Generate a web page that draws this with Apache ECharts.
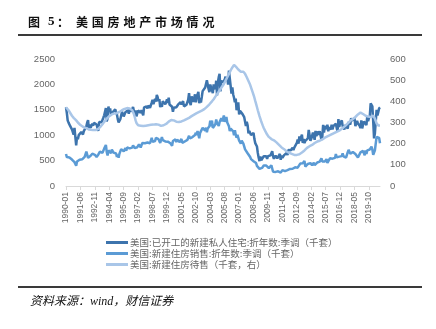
<!DOCTYPE html>
<html><head><meta charset="utf-8">
<script src="https://cdn.jsdelivr.net/npm/echarts@6/dist/echarts.min.js"></script>
<style>html,body{margin:0;padding:0;background:#fff}#c{width:436px;height:329px}</style>
</head><body><div id="c"></div>
<script>
// Monthly data 1990-01 .. 2020-11
const startYear = 1990, startMonth = 1, monthCount = 371;
const seriesNames = ['美国:已开工的新建私人住宅:折年数:季调（千套）','美国:新建住房销售:折年数:季调（千套）','美国:新建住房待售（千套，右）'];
const leftTicks = [0, 500, 1000, 1500, 2000, 2500];
const rightTicks = [0, 100, 200, 300, 400, 500, 600];

const starts = [
1551,1437,1289,1248,1212,1177,1171,1115,1110,1014,1145,969,
798,965,921,1001,996,1036,1063,1049,1015,1079,1103,1079,
1176,1250,1297,1099,1214,1145,1139,1226,1186,1244,1214,1227,
1210,1210,1083,1258,1260,1280,1254,1300,1343,1392,1376,1533,
1272,1337,1564,1465,1526,1409,1439,1450,1474,1450,1511,1455,
1407,1316,1249,1267,1314,1281,1461,1416,1369,1369,1452,1431,
1467,1491,1424,1516,1504,1467,1472,1557,1475,1392,1489,1370,
1355,1486,1457,1492,1442,1494,1437,1390,1546,1520,1510,1566,
1525,1584,1567,1540,1536,1641,1698,1614,1582,1715,1660,1792,
1748,1670,1710,1553,1611,1559,1669,1648,1635,1608,1648,1708,
1636,1737,1604,1626,1575,1559,1463,1541,1507,1549,1551,1532,
1600,1625,1590,1649,1605,1636,1670,1567,1562,1540,1602,1568,
1698,1829,1642,1592,1764,1717,1655,1633,1804,1648,1753,1788,
1853,1629,1726,1643,1751,1867,1897,1833,1939,1967,2083,2057,
1911,1846,1998,2003,1981,1828,2002,2024,1905,2072,1782,2042,
2144,2207,1864,2061,2025,2068,2054,2095,2151,2065,2147,1994,
2273,2119,1969,1821,1942,1802,1737,1650,1720,1491,1570,1649,
1409,1480,1495,1490,1415,1448,1354,1330,1183,1264,1197,1037,
1084,1103,1005,1013,973,1046,923,844,820,777,652,560,
490,582,505,478,540,585,594,586,585,534,588,581,
614,604,636,687,583,536,546,599,594,543,545,539,
630,517,600,554,561,608,623,585,650,610,711,694,
723,704,695,753,708,757,740,754,847,915,833,976,
888,962,1010,847,925,844,888,883,863,936,1105,1003,
888,929,962,1052,985,909,1085,984,1024,1074,1007,1080,
1063,909,963,1205,1054,1176,1153,1122,1207,1076,1155,1148,
1114,1208,1113,1177,1159,1192,1225,1144,1067,1317,1160,1238,
1235,1289,1179,1162,1114,1202,1172,1174,1130,1264,1303,1210,
1334,1290,1327,1276,1329,1177,1184,1280,1229,1209,1187,1142,
1291,1134,1203,1270,1265,1241,1198,1373,1274,1340,1380,1626,
1617,1567,1269,938,1038,1273,1497,1388,1459,1530,1547
];

const sales = [
630,569,541,540,561,535,530,520,496,482,470,445,
401,482,507,508,517,516,511,526,487,524,575,558,
676,639,554,546,554,596,627,636,650,621,614,639,
573,579,616,627,676,697,657,653,678,736,770,808,
670,602,701,679,676,646,717,706,656,680,632,639,
573,621,557,638,652,725,753,723,681,652,744,694,
758,719,786,741,738,756,756,800,770,748,786,716,
764,803,819,828,758,793,848,813,829,843,831,832,
856,841,881,843,890,950,872,877,902,887,947,934,
933,921,933,849,874,960,904,872,879,878,870,865,
873,856,900,841,857,793,887,875,891,920,863,915,
951,930,865,866,926,850,875,868,877,863,906,907,
869,988,939,956,925,964,969,972,1004,1047,1001,1083,
1011,941,1047,1022,1067,1143,1158,1156,1088,1149,1060,1133,
1141,1178,1286,1175,1289,1143,1154,1126,1217,1310,1236,1245,
1182,1260,1252,1335,1275,1318,1389,1264,1273,1358,1252,1260,
1176,1082,1129,1153,1105,1076,999,1097,1011,949,1006,1024,
893,856,836,894,904,836,809,722,719,716,645,612,
614,571,529,543,519,489,499,455,452,397,382,367,
337,358,349,356,370,402,413,417,402,399,370,352,
338,336,407,414,280,301,282,278,312,275,290,325,
312,264,301,312,306,301,294,294,310,314,317,338,
336,356,346,340,365,356,367,375,369,361,388,374,
442,420,446,446,462,493,381,418,400,434,446,411,
450,414,407,409,458,412,410,448,462,458,437,481,
520,545,484,510,496,482,503,529,455,470,490,544,
520,537,538,570,561,553,629,564,574,559,578,541,
592,588,643,585,608,619,560,558,667,711,712,636,
645,662,671,658,674,630,604,603,561,560,599,661,
631,680,690,667,607,700,633,702,738,730,719,720,
774,716,612,582,704,839,965,994,959,945,841
];

const inventory = [
372,368,364,358,352,345,338,332,326,322,318,314,
310,305,300,296,292,288,285,282,280,278,276,275,
274,272,270,268,267,266,265,265,264,264,263,264,
265,267,270,273,277,282,287,292,298,303,308,312,
318,322,326,330,333,336,338,340,342,343,344,346,
344,346,348,350,352,355,358,360,362,364,366,368,
368,370,368,366,364,362,358,352,340,326,310,298,
290,287,286,285,285,284,284,283,284,285,285,286,
286,287,288,288,289,290,291,290,290,291,292,293,
292,290,288,286,284,284,285,287,290,292,293,294,
300,304,308,311,312,312,311,310,308,306,304,303,
302,302,303,304,305,306,308,310,312,314,316,318,
320,322,325,328,330,333,335,337,340,342,344,346,
348,350,352,354,356,358,360,363,366,370,374,378,
382,386,390,395,400,405,410,416,422,428,434,440,
446,452,458,464,470,476,482,490,498,506,514,522,
530,538,546,554,560,566,572,570,566,560,555,550,
546,542,540,540,541,540,536,530,522,514,505,496,
488,478,466,454,442,430,417,402,388,373,358,344,
330,318,306,295,284,274,266,258,250,243,237,232,
228,225,222,220,218,216,213,210,206,202,198,194,
190,186,182,180,177,174,170,166,163,161,159,157,
156,154,152,150,148,147,146,146,147,148,149,150,
152,155,158,161,164,168,172,176,180,184,186,188,
190,192,194,197,200,203,206,208,210,212,213,214,
216,218,220,222,225,228,230,232,234,236,238,240,
242,244,246,248,250,252,254,256,258,260,262,264,
270,272,274,277,280,284,288,292,296,300,304,308,
310,313,316,319,322,326,330,334,338,342,345,347,
350,346,340,336,334,332,330,330,328,326,325,326,
328,330,332,326,318,308,296,288,286,284,286
];

const months = [];
for (let i = 0; i < monthCount; i++) {
  const m = (startMonth - 1 + i) % 12 + 1;
  const y = startYear + Math.floor((startMonth - 1 + i) / 12);
  months.push(y + '-' + (m < 10 ? '0' + m : m));
}

const titleChars = '美国房地产市场情况'.split('');
const graphics = [
  {type:'line', shape:{x1:18,y1:35,x2:422,y2:35}, style:{stroke:'#3a3a3a', lineWidth:2}},
  {type:'line', shape:{x1:18,y1:287,x2:422,y2:287}, style:{stroke:'#3a3a3a', lineWidth:2}},
  {type:'text', x:28, y:22, style:{text:'图', font:'bold 12px "Noto Sans CJK SC"', fill:'#111', textVerticalAlign:'middle'}},
  {type:'text', x:48, y:22, style:{text:'5', font:'bold 13px "Liberation Serif"', fill:'#111', textVerticalAlign:'middle'}},
  {type:'text', x:57, y:22, style:{text:'：', font:'bold 12px "Noto Sans CJK SC"', fill:'#111', textVerticalAlign:'middle'}},
  {type:'text', x:30, y:302, style:{text:'资料来源：wind，财信证券', font:'italic 12px "Liberation Serif", "Noto Sans CJK SC"', fill:'#111', textVerticalAlign:'middle'}}
];
titleChars.forEach((ch, i) => {
  graphics.push({type:'text', x:76 + i*15.8, y:22, style:{text:ch, font:'bold 12px "Noto Sans CJK SC"', fill:'#111', textVerticalAlign:'middle'}});
});

const chart = echarts.init(document.getElementById('c'), null, {renderer:'canvas'});
const colors = ['#3d74ad', '#5b9bd5', '#a9c6e8'];
chart.setOption({
  animation:false,
  color: colors,
  textStyle:{fontFamily:'"Liberation Sans", "Noto Sans CJK SC", sans-serif'},
  grid:{left:66, right:56, top:59, bottom:143, containLabel:false},
  legend:{
    orient:'vertical', left:101, top:232, icon:'rect', itemWidth:22, itemHeight:3, itemGap:0,
    textStyle:{fontSize:9.5, lineHeight:11, color:'#666', fontFamily:'"Noto Sans CJK SC", sans-serif', padding:[0,0,0,-3]},
    data: seriesNames
  },
  xAxis:{
    type:'category', data:months, boundaryGap:false,
    axisLine:{lineStyle:{color:'#d9d9d9'}},
    axisTick:{interval:16, length:4, lineStyle:{color:'#d9d9d9'}},
    axisLabel:{interval:16, rotate:90, fontSize:8.5, color:'#666', margin:6}
  },
  yAxis:[
    {type:'value', min:leftTicks[0], max:leftTicks[leftTicks.length-1], interval:500,
     splitLine:{show:false}, axisLine:{show:false}, axisTick:{show:false},
     axisLabel:{fontSize:9.5, color:'#666', margin:11, formatter:(v)=>String(v)}},
    {type:'value', min:rightTicks[0], max:rightTicks[rightTicks.length-1], interval:100,
     splitLine:{show:false}, axisLine:{show:false}, axisTick:{show:false},
     axisLabel:{fontSize:9.5, color:'#666', margin:10, formatter:(v)=>String(v)}}
  ],
  series:[
    {name:seriesNames[0], type:'line', data:starts, yAxisIndex:0, showSymbol:false, lineStyle:{width:2.5}},
    {name:seriesNames[1], type:'line', data:sales, yAxisIndex:0, showSymbol:false, lineStyle:{width:2.5}},
    {name:seriesNames[2], type:'line', data:inventory, yAxisIndex:1, showSymbol:false, lineStyle:{width:2.5}}
  ],
  graphic: graphics
});
</script></body></html>
